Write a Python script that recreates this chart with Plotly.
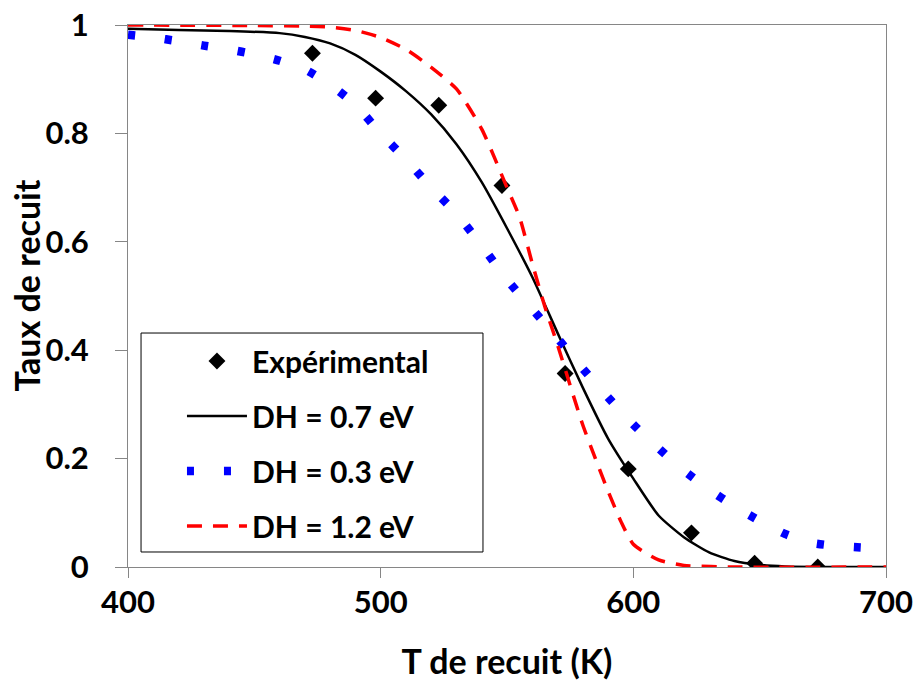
import plotly.graph_objects as go

# experimental points
t_exp = [473, 498, 523, 548, 573, 598, 623, 648, 673]
taux_exp = [0.948, 0.865, 0.852, 0.704, 0.357, 0.181, 0.063, 0.007, 0.0]

# DH = 0.7 eV
t_07 = [400, 420, 440, 460, 470, 480, 490, 500, 510, 520, 530, 540, 550,
        560, 570, 580, 590, 600, 610, 620, 630, 640, 650, 660, 680, 700]
taux_07 = [0.993, 0.991, 0.989, 0.985, 0.978, 0.966, 0.945, 0.914, 0.878,
           0.835, 0.78, 0.71, 0.625, 0.535, 0.432, 0.331, 0.237, 0.163,
           0.095, 0.055, 0.027, 0.011, 0.004, 0.001, 0.0, 0.0]

# DH = 0.3 eV
t_03 = [400, 410, 420, 430, 440, 450, 460, 470, 480, 490, 500, 510, 520,
        530, 540, 550, 560, 570, 580, 590, 600, 610, 620, 630, 640, 650,
        660, 670, 680, 690, 700]
taux_03 = [0.982, 0.977, 0.970, 0.962, 0.955, 0.946, 0.934, 0.918, 0.89,
           0.853, 0.80, 0.752, 0.70, 0.652, 0.593, 0.53, 0.476, 0.422,
           0.366, 0.313, 0.263, 0.219, 0.178, 0.143, 0.112, 0.085, 0.061,
           0.045, 0.039, 0.036, 0.034]

# DH = 1.2 eV
t_12 = [400, 450, 470, 480, 490, 500, 510, 520, 530, 540, 550, 555, 560,
        565, 570, 575, 580, 585, 590, 595, 600, 610, 620, 640, 700]
taux_12 = [1.0, 0.999, 0.998, 0.996, 0.99, 0.977, 0.955, 0.922, 0.882,
           0.808, 0.70, 0.645, 0.56, 0.48, 0.41, 0.335, 0.262, 0.2, 0.14,
           0.085, 0.042, 0.013, 0.003, 0.0, 0.0]

x_ticks = [400, 500, 600, 700]
y_ticks = [0, 0.2, 0.4, 0.6, 0.8, 1]
y_labels = ['0', '0.2', '0.4', '0.6', '0.8', '1']

font_name = 'Lato'
bold = dict(family=font_name, weight='bold', color='black')

fig = go.Figure()

fig.add_trace(go.Scatter(
    x=t_exp, y=taux_exp, mode='markers', name='Expérimental',
    legendgroup='a',
    marker=dict(symbol='diamond', size=13, color='black'),
))
fig.add_trace(go.Scatter(
    x=t_07, y=taux_07, mode='lines', name='DH = 0.7 eV', legendgroup='b',
    line=dict(color='black', width=2.5, shape='spline', smoothing=0.6),
))
fig.add_trace(go.Scatter(
    x=t_03, y=taux_03, mode='lines', name='DH = 0.3 eV', legendgroup='c',
    line=dict(color='#0000ff', width=8.5, dash='7px,30px',
              shape='spline', smoothing=0.6),
))
fig.add_trace(go.Scatter(
    x=t_12, y=taux_12, mode='lines', name='DH = 1.2 eV', legendgroup='d',
    line=dict(color='#ff0000', width=3.5, dash='15px,11px',
              shape='spline', smoothing=0.6),
))

# legend frame
fig.add_shape(type='rect', xref='paper', yref='paper',
              x0=0.0172, x1=0.4683, y0=0.0277, y1=0.4317,
              line=dict(color='black', width=1), fillcolor='white',
              layer='below')

# y axis title as an annotation so it can sit a bit closer to the labels
fig.add_annotation(
    text='Taux de recuit', xref='paper', yref='paper',
    x=-0.134, y=0.52, xanchor='center', yanchor='middle',
    textangle=-90, showarrow=False, font=dict(size=34, **bold),
)

fig.update_layout(
    width=915, height=687,
    margin=dict(l=128, r=29, t=25, b=120, autoexpand=False),
    plot_bgcolor='white', paper_bgcolor='white',
    font=dict(family=font_name, color='black'),
    showlegend=True,
    legend=dict(
        x=0.0712, y=0.428, xanchor='left', yanchor='top',
        bgcolor='rgba(0,0,0,0)', borderwidth=0,
        font=dict(size=30, **bold),
        traceorder='grouped', tracegroupgap=13, itemwidth=60,
    ),
)

fig.update_xaxes(
    range=[400, 700], tickvals=x_ticks, automargin=False,
    showgrid=False, zeroline=False,
    showline=True, linecolor='#868686', linewidth=1, mirror=True,
    ticks='outside', ticklen=10, tickcolor='#868686',
    ticklabelstandoff=-2,
    tickfont=dict(size=31, **bold),
    title=dict(text='T de recuit (K)', standoff=30,
               font=dict(size=34, **bold)),
)
fig.update_yaxes(
    range=[0, 1], tickvals=y_ticks, ticktext=y_labels, automargin=False,
    showgrid=False, zeroline=False,
    showline=True, linecolor='#868686', linewidth=1, mirror=True,
    ticks='outside', ticklen=12, tickcolor='#868686',
    ticklabelstandoff=20,
    tickfont=dict(size=31, **bold),
)

# drop the default body margin so the figure sits at the page corner
fig.write_html('out.html', config={'displayModeBar': False},
               post_script="document.body.style.margin = '0';")
